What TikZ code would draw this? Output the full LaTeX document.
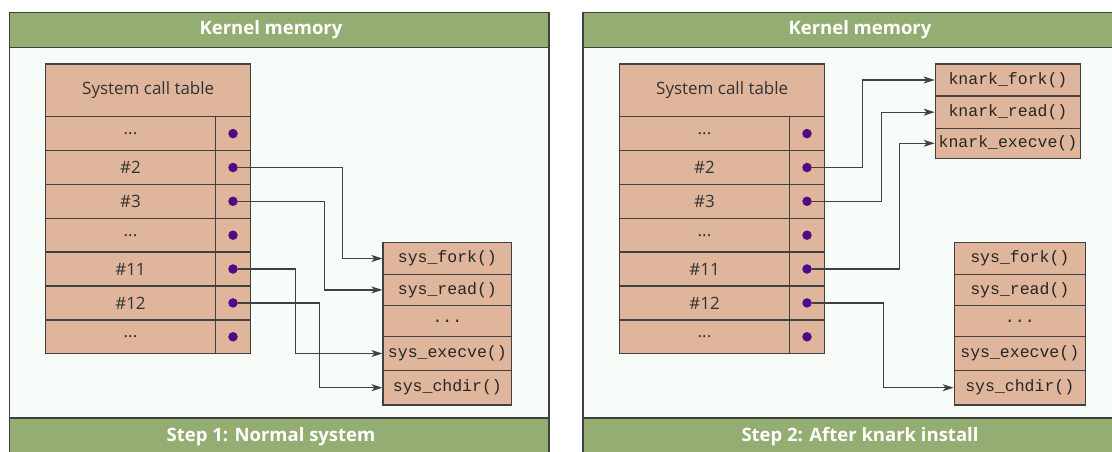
\documentclass[tikz,border=0pt]{standalone}
\usepackage{fontspec}
\setmainfont{Open Sans}
\setmonofont{Liberation Mono}
\usetikzlibrary{arrows.meta, positioning, calc}

\definecolor{hdrgreen}{RGB}{147,173,115}
\definecolor{cellfill}{RGB}{223,181,155}
\definecolor{ptrdot}{RGB}{78,10,135}
\definecolor{panelbg}{RGB}{248,252,248}
\definecolor{edge}{RGB}{64,64,64}

\tikzset{
  panel/.style={fill=panelbg, draw=edge, line width=1.5pt},
  band/.style={fill=hdrgreen, draw=edge, line width=1.5pt},
  hdr/.style={text=white, font=\bfseries\fontsize{18.5}{18.5}\selectfont},
  cell/.style={draw=edge, fill=cellfill, line width=1.3pt, inner sep=0pt,
    minimum width=169.6pt, minimum height=33.85pt, text=black!80,
    font=\fontsize{17}{17}\selectfont},
  ptrcell/.style={cell, minimum width=35.4pt},
  dot/.style={circle, fill=ptrdot, inner sep=0pt, minimum size=9.5pt},
  func/.style={draw=edge, fill=cellfill, line width=1.3pt, inner sep=0pt,
    text=black!85, font=\fontsize{16.5}{17}\ttfamily},
  conn/.style={draw=edge, line width=1.3pt, -{Stealth[length=11pt,width=7pt,inset=3pt]}}
}

\begin{document}
\begin{tikzpicture}[x=1pt,y=-1pt]
\useasboundingbox (0,0) rectangle (1112,451);
\clip (0,0) rectangle (1112,451);

% left panel: normal system
\draw[panel] (9.3,12.7) rectangle (549,470);
\draw[band] (9.3,12.7) rectangle (549,47.3);
\draw[band] (9.3,418) rectangle (549,470);
\node[hdr] (Lhead) at (271,30) {Kernel memory};
\node[hdr] (Lfoot) at (271,437) {Step 1: Normal system};

\node[cell, minimum width=205pt, minimum height=52.7pt] (Ltab) at (148.2,90.35) {System call table};
\node[cell] (Lrow1) at (130.5,133.6) {...};  \node[ptrcell] (Lp1) at (233,133.6) {};
\node[cell] (Lrow2) at (130.5,167.5) {\#2};  \node[ptrcell] (Lp2) at (233,167.5) {};
\node[cell] (Lrow3) at (130.5,201.3) {\#3};  \node[ptrcell] (Lp3) at (233,201.3) {};
\node[cell] (Lrow4) at (130.5,235.2) {...};  \node[ptrcell] (Lp4) at (233,235.2) {};
\node[cell] (Lrow5) at (130.5,269.0) {\#11}; \node[ptrcell] (Lp5) at (233,269.0) {};
\node[cell] (Lrow6) at (130.5,302.9) {\#12}; \node[ptrcell] (Lp6) at (233,302.9) {};
\node[cell] (Lrow7) at (130.5,336.8) {...};  \node[ptrcell] (Lp7) at (233,336.8) {};
\node[dot] (Ld1) at (Lp1) {}; \node[dot] (Ld2) at (Lp2) {};
\node[dot] (Ld3) at (Lp3) {}; \node[dot] (Ld4) at (Lp4) {};
\node[dot] (Ld5) at (Lp5) {}; \node[dot] (Ld6) at (Lp6) {};
\node[dot] (Ld7) at (Lp7) {};

\node[func, minimum width=128.7pt, minimum height=31.6pt] (Lfork)  at (447.4,258.5) {sys\_fork()};
\node[func, minimum width=128.7pt, minimum height=31.2pt] (Lread)  at (447.4,289.9) {sys\_read()};
\node[func, minimum width=128.7pt, minimum height=31pt]   (Ldots)  at (447.4,321.0) {...};
\node[func, minimum width=128.7pt, minimum height=34pt]   (Lexec)  at (447.4,353.5) {sys\_execve()};
\node[func, minimum width=128.7pt, minimum height=34.5pt] (Lchdir) at (447.4,387.7) {sys\_chdir()};

\draw[conn] (Ld2.east) -| ([xshift=-39.7pt]Lfork.west) -- (Lfork.west);
\draw[conn] (Ld3.east) -| ([xshift=-57.7pt]Lread.west) -- (Lread.west);
\draw[conn] (Ld5.east) -| ([xshift=-87pt]Lexec.west) -- (Lexec.west);
\draw[conn] (Ld6.east) -| ([xshift=-62.7pt]Lchdir.west) -- (Lchdir.west);

% right panel: after knark install
\draw[panel] (583,12.7) rectangle (1130,470);
\draw[band] (583,12.7) rectangle (1130,47.3);
\draw[band] (583,418) rectangle (1130,470);
\node[hdr] (Rhead) at (860,30) {Kernel memory};
\node[hdr] (Rfoot) at (860,437) {Step 2: After knark install};

\node[cell, minimum width=205pt, minimum height=52.7pt] (Rtab) at (722.2,90.35) {System call table};
\node[cell] (Rrow1) at (704.5,133.6) {...};  \node[ptrcell] (Rp1) at (807,133.6) {};
\node[cell] (Rrow2) at (704.5,167.5) {\#2};  \node[ptrcell] (Rp2) at (807,167.5) {};
\node[cell] (Rrow3) at (704.5,201.3) {\#3};  \node[ptrcell] (Rp3) at (807,201.3) {};
\node[cell] (Rrow4) at (704.5,235.2) {...};  \node[ptrcell] (Rp4) at (807,235.2) {};
\node[cell] (Rrow5) at (704.5,269.0) {\#11}; \node[ptrcell] (Rp5) at (807,269.0) {};
\node[cell] (Rrow6) at (704.5,302.9) {\#12}; \node[ptrcell] (Rp6) at (807,302.9) {};
\node[cell] (Rrow7) at (704.5,336.8) {...};  \node[ptrcell] (Rp7) at (807,336.8) {};
\node[dot] (Rd1) at (Rp1) {}; \node[dot] (Rd2) at (Rp2) {};
\node[dot] (Rd3) at (Rp3) {}; \node[dot] (Rd4) at (Rp4) {};
\node[dot] (Rd5) at (Rp5) {}; \node[dot] (Rd6) at (Rp6) {};
\node[dot] (Rd7) at (Rp7) {};

\node[func, minimum width=145.4pt, minimum height=32pt]   (Rkfork) at (1008,80.0)  {knark\_fork()};
\node[func, minimum width=145.4pt, minimum height=32.3pt] (Rkread) at (1008,112.15) {knark\_read()};
\node[func, minimum width=145.4pt, minimum height=30pt]   (Rkexec) at (1008,143.3) {knark\_execve()};

\node[func, minimum width=131pt, minimum height=31.6pt] (Rfork)  at (1019.8,258.5) {sys\_fork()};
\node[func, minimum width=131pt, minimum height=31.2pt] (Rread)  at (1019.8,289.9) {sys\_read()};
\node[func, minimum width=131pt, minimum height=31pt]   (Rdots)  at (1019.8,321.0) {...};
\node[func, minimum width=131pt, minimum height=34pt]   (Rexec)  at (1019.8,353.5) {sys\_execve()};
\node[func, minimum width=131pt, minimum height=34.5pt] (Rchdir) at (1019.8,387.7) {sys\_chdir()};

\draw[conn] (Rd2.east) -| ([xshift=-72pt]Rkfork.west) -- (Rkfork.west);
\draw[conn] (Rd3.east) -| ([xshift=-53pt]Rkread.west) -- (Rkread.west);
\draw[conn] (Rd5.east) -| ([xshift=-35pt]Rkexec.west) -- (Rkexec.west);
\draw[conn] (Rd6.east) -| ([xshift=-70.3pt]Rchdir.west) -- (Rchdir.west);

\end{tikzpicture}
\end{document}
